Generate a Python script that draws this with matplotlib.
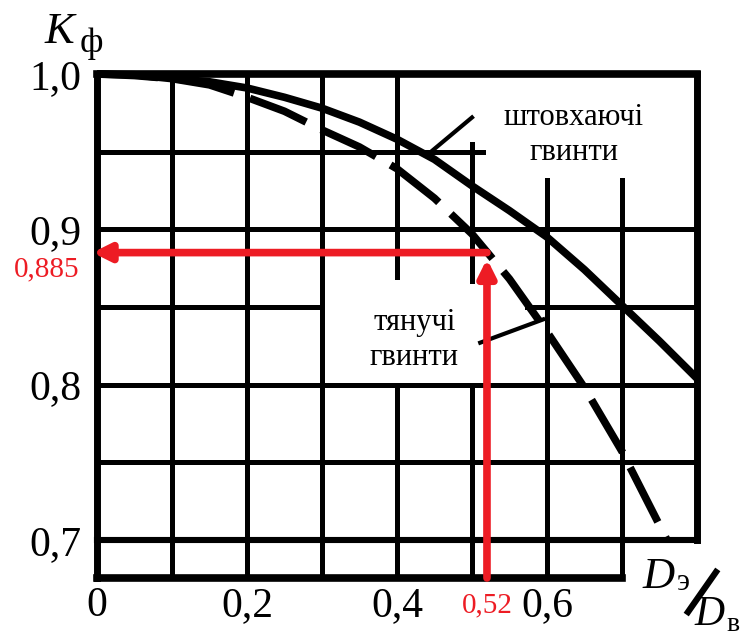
import matplotlib
matplotlib.use('Agg')
import matplotlib.pyplot as plt
from matplotlib.lines import Line2D

plt.rcParams['font.family'] = ['Liberation Serif', 'DejaVu Serif']

# D_e / D_v ratio and K_f for pushing propellers (solid)
x_push = [0.0, 0.05, 0.10, 0.15, 0.20, 0.25, 0.30, 0.35, 0.40, 0.45,
          0.50, 0.55, 0.60, 0.65, 0.70, 0.75, 0.80]
k_push = [1.000, 0.9995, 0.997, 0.995, 0.991, 0.985, 0.978, 0.969, 0.958, 0.945,
          0.928, 0.912, 0.895, 0.874, 0.851, 0.828, 0.804]

# pulling propellers (dashed)
x_pull = [0.0, 0.05, 0.10, 0.15, 0.20, 0.25, 0.30, 0.35, 0.40, 0.45,
          0.50, 0.55, 0.60, 0.65, 0.70, 0.76]
k_pull = [1.000, 0.999, 0.997, 0.993, 0.985, 0.976, 0.964, 0.953, 0.939, 0.920,
          0.897, 0.868, 0.834, 0.798, 0.757, 0.700]

# read-off point
x_read = 0.52
k_read = 0.885

x_ticks = [0.0, 0.2, 0.4, 0.6]
x_tick_labels = ['0', '0,2', '0,4', '0,6']
y_ticks = [0.7, 0.8, 0.9, 1.0]
y_tick_labels = ['0,7', '0,8', '0,9', '1,0']

label_push = 'штовхаючі\nгвинти'
label_pull = 'тянучі\nгвинти'

RED = '#ED1C24'


def draw_grid(ax, y_bottom):
    # (y, x_start, x_end) - the grid is broken around the captions
    horizontal = [(0.95, 0.0, 0.515), (0.9, 0.0, 0.8), (0.85, 0.0, 0.3),
                  (0.85, 0.573, 0.8), (0.8, 0.0, 0.8), (0.75, 0.0, 0.8),
                  (0.7, 0.0, 0.8)]
    vertical = [(0.1, y_bottom, 1.0), (0.2, y_bottom, 1.0), (0.3, y_bottom, 1.0),
                (0.4, 0.869, 1.0), (0.4, y_bottom, 0.8),
                (0.5, 0.867, 0.955), (0.5, y_bottom, 0.8),
                (0.6, y_bottom, 0.932), (0.7, y_bottom, 0.932)]
    border_h = [(1.0, 0.0, 0.8), (y_bottom, 0.0, 0.7)]
    border_v = [(0.0, y_bottom, 1.0), (0.8, 0.7, 1.0)]

    for y, x0, x1 in horizontal:
        lw = 4.4 if y == 0.7 else 3.6
        ax.plot([x0, x1], [y, y], color='black', lw=lw, clip_on=False,
                solid_capstyle='projecting', zorder=2)
    for x, y0, y1 in vertical:
        ax.plot([x, x], [y0, y1], color='black', lw=3.6, clip_on=False,
                solid_capstyle='projecting', zorder=2)
    for y, x0, x1 in border_h:
        ax.plot([x0, x1], [y, y], color='black', lw=5.5, clip_on=False,
                solid_capstyle='projecting', zorder=2)
    for x, y0, y1 in border_v:
        ax.plot([x, x], [y0, y1], color='black', lw=5.0, clip_on=False,
                solid_capstyle='projecting', zorder=2)


def main():
    y_bottom = 0.6755
    fig = plt.figure(figsize=(7.5, 6.39), dpi=100)
    ax = fig.add_axes([0.1293, 0.0955, 0.8, 0.7887])
    ax.set_xlim(0, 0.8)
    ax.set_ylim(y_bottom, 1.0)
    for spine in ax.spines.values():
        spine.set_visible(False)

    ax.set_xticks(x_ticks)
    ax.set_xticklabels(x_tick_labels)
    ax.set_yticks(y_ticks)
    ax.set_yticklabels(y_tick_labels)
    ax.tick_params(axis='both', length=0, labelsize=30)
    ax.tick_params(axis='x', pad=6)
    ax.tick_params(axis='y', pad=11)

    draw_grid(ax, y_bottom)

    ax.plot(x_push, k_push, color='black', lw=5.5, clip_on=False,
            solid_capstyle='butt', zorder=3)
    ax.plot(x_pull, k_pull, color='black', lw=5.5, clip_on=False,
            linestyle=(0, (8, 2.2)), dash_capstyle='butt', zorder=3)

    # leader lines to captions
    ax.plot([0.448, 0.500], [0.951, 0.972], color='black', lw=3, zorder=3)
    ax.plot([0.511, 0.595], [0.827, 0.842], color='black', lw=3, zorder=3)

    ax.text(0.636, 0.9607, label_push, ha='center', va='center',
            fontsize=22, linespacing=1.3, zorder=4)
    ax.text(0.423, 0.8287, label_pull, ha='center', va='center',
            fontsize=22, linespacing=1.3, zorder=4)

    # red read-off arrows
    arrow = dict(arrowstyle='-|>,head_length=0.5,head_width=0.25', lw=5.5,
                 color=RED, shrinkA=0, shrinkB=0, mutation_scale=20)
    ax.annotate('', xy=(-0.006, k_read), xytext=(x_read, k_read),
                arrowprops=arrow, annotation_clip=False, zorder=5)
    ax.annotate('', xy=(x_read, k_read - 0.004), xytext=(x_read, y_bottom),
                arrowprops=arrow, annotation_clip=False, zorder=5)
    ax.text(-0.0667, 0.874, '0,885', color=RED, fontsize=21,
            ha='center', va='center')
    ax.text(0.521, 0.658, '0,52', color=RED, fontsize=21,
            ha='center', va='center')

    # axis titles
    fig.text(0.06, 0.9327, 'K', fontsize=32, style='italic', va='baseline')
    fig.text(0.106, 0.9186, 'ф', fontsize=26, va='baseline')
    fig.text(0.856, 0.0798, 'D', fontsize=32, style='italic', va='baseline')
    fig.text(0.903, 0.0767, 'э', fontsize=22, va='baseline')
    fig.add_artist(Line2D([688 / 750, 716 / 750], [1 - 612 / 639, 1 - 572 / 639],
                          color='black', lw=4.5, transform=fig.transFigure))
    fig.text(0.926, 0.022, 'D', fontsize=30, style='italic', va='baseline')
    fig.text(0.968, 0.012, 'в', fontsize=20, va='baseline')

    fig.savefig('out.png', dpi=100)


if __name__ == '__main__':
    main()
